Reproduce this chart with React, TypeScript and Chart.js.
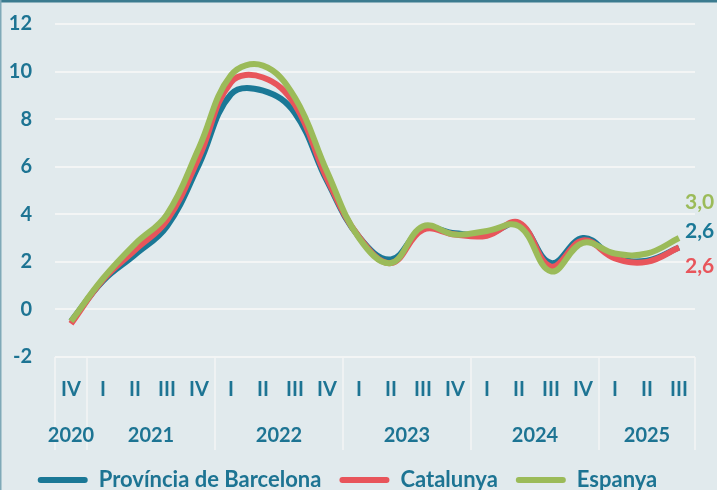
import { useEffect, useRef } from 'react';
import { Chart, registerables } from 'chart.js';

Chart.register(...registerables);

// ---- Data ----
const quarters = ['IV', 'I', 'II', 'III', 'IV', 'I', 'II', 'III', 'IV', 'I', 'II', 'III', 'IV', 'I', 'II', 'III', 'IV', 'I', 'II', 'III'];
const years = ['2020', '2021', '2022', '2023', '2024', '2025'];
const quartersPerYear = [1, 4, 4, 4, 4, 3];

const barcelona = [-0.5, 1.2, 2.3, 3.5, 6.1, 9.05, 9.2, 8.25, 5.4, 3.05, 2.1, 3.4, 3.2, 3.15, 3.6, 1.95, 3.0, 2.2, 2.05, 2.6];
const catalunya = [-0.6, 1.25, 2.5, 3.75, 6.4, 9.55, 9.75, 8.6, 5.5, 3.05, 1.95, 3.35, 3.15, 3.1, 3.65, 1.8, 2.9, 2.15, 2.0, 2.6];
const espanya = [-0.5, 1.3, 2.75, 4.0, 6.8, 9.85, 10.25, 8.9, 5.8, 3.0, 1.95, 3.5, 3.15, 3.3, 3.5, 1.6, 2.8, 2.35, 2.35, 3.0];

const seriesNames = ['Província de Barcelona', 'Catalunya', 'Espanya'];
const yMin = -2;
const yMax = 12;
const yStep = 2;

// ---- Styles ----
const TEXT = '#1d7493';
const BLUE = '#1a7896';
const RED = '#e8555b';
const GREEN = '#9bbb59';
const BG = '#e1eaed';
const GRID = '#f3f5f5';
const FONT = 'Lato, "Open Sans", sans-serif';

const endLabelOffsets = [-16, 19, -36];

const decorPlugin = {
  id: 'decor',
  beforeDraw(chart: any) {
    const { ctx, width, height } = chart;
    ctx.save();
    ctx.fillStyle = BG;
    ctx.fillRect(0, 0, width, height);
    ctx.fillStyle = '#3b7b8f';
    ctx.fillRect(0, 0, width, 2.5);
    ctx.fillStyle = '#7fa9b8';
    ctx.fillRect(0, 0, 1.5, height);
    ctx.restore();
  },
  afterDraw(chart: any) {
    const { ctx, chartArea } = chart;
    const xs = chart.scales.x;
    ctx.save();
    const bounds: number[] = [chartArea.left];
    let idx = 0;
    const centers: number[] = [];
    quartersPerYear.forEach((n) => {
      const first = xs.getPixelForValue(idx);
      const last = xs.getPixelForValue(idx + n - 1);
      centers.push((first + last) / 2);
      idx += n;
      if (idx < quarters.length) {
        bounds.push((xs.getPixelForValue(idx - 1) + xs.getPixelForValue(idx)) / 2);
      }
    });
    bounds.push(chartArea.right);
    ctx.strokeStyle = GRID;
    ctx.lineWidth = 1.5;
    bounds.forEach((bx) => {
      ctx.beginPath();
      ctx.moveTo(bx, chartArea.bottom);
      ctx.lineTo(bx, chartArea.bottom + 93);
      ctx.stroke();
    });
    ctx.fillStyle = TEXT;
    ctx.font = `bold 20px ${FONT}`;
    ctx.textAlign = 'center';
    ctx.textBaseline = 'middle';
    years.forEach((y, i) => {
      ctx.fillText(y, centers[i], chartArea.bottom + 79);
    });
    ctx.restore();
  },
  afterDatasetsDraw(chart: any) {
    const { ctx } = chart;
    ctx.save();
    ctx.font = `bold 21px ${FONT}`;
    ctx.textAlign = 'left';
    ctx.textBaseline = 'middle';
    chart.data.datasets.forEach((ds: any, i: number) => {
      const meta = chart.getDatasetMeta(i);
      const pt = meta.data[meta.data.length - 1];
      const v = ds.data[ds.data.length - 1];
      ctx.fillStyle = ds.borderColor;
      ctx.fillText(v.toFixed(1).replace('.', ','), pt.x + 6, pt.y + endLabelOffsets[i]);
    });
    ctx.restore();
  },
};

export default function App() {
  const ref = useRef<HTMLCanvasElement>(null);

  useEffect(() => {
    let chart: Chart | null = null;
    let cancelled = false;
    const build = () => {
      if (cancelled || !ref.current) return;
      const colors = [BLUE, RED, GREEN];
      const dataSeries = [barcelona, catalunya, espanya];
      chart = new Chart(ref.current, {
        type: 'line',
        data: {
          labels: quarters,
          datasets: dataSeries.map((d, i) => ({
            label: seriesNames[i],
            data: d,
            borderColor: colors[i],
            backgroundColor: colors[i],
            borderWidth: 6,
            pointRadius: 0,
            pointHoverRadius: 0,
            tension: 0.4,
            fill: false,
            order: 2 - i,
          })),
        },
        options: {
          responsive: true,
          maintainAspectRatio: false,
          animation: false,
          events: [],
          layout: { padding: { top: 24, left: 0, right: 22, bottom: -11 } },
          scales: {
            x: {
              offset: true,
              grid: { display: false },
              border: { display: false },
              ticks: {
                color: TEXT,
                font: { family: FONT, size: 20, weight: 'bold' },
                padding: 13,
                maxRotation: 0,
                autoSkip: false,
              },
              afterFit: (s: any) => {
                s.height = 94;
              },
            },
            y: {
              min: yMin,
              max: yMax,
              ticks: {
                stepSize: yStep,
                color: TEXT,
                font: { family: FONT, size: 20, weight: 'bold' },
                padding: 0,
              },
              grid: {
                color: GRID,
                lineWidth: 2,
                drawTicks: true,
                tickLength: 23,
                tickColor: 'rgba(0,0,0,0)',
              },
              border: { display: false },
              afterFit: (s: any) => {
                s.width = 55;
              },
            },
          },
          plugins: {
            legend: {
              position: 'bottom',
              labels: {
                boxWidth: 50,
                boxHeight: 6,
                padding: 18,
                color: TEXT,
                font: { family: FONT, size: 22, weight: 'bold' },
                useBorderRadius: true,
                borderRadius: 3,
                sort: (a: any, b: any) => a.datasetIndex - b.datasetIndex,
                generateLabels: (c: any) =>
                  (Chart.defaults.plugins.legend.labels.generateLabels as any)(c).map((l: any) => ({
                    ...l,
                    fillStyle: l.strokeStyle,
                    lineWidth: 0,
                  })),
              },
            },
            tooltip: { enabled: false },
          },
        } as any,
        plugins: [decorPlugin],
      });
    };
    const fontsReady = (document as any).fonts
      ? Promise.all([
          (document as any).fonts.load(`bold 19px Lato`),
          (document as any).fonts.load(`bold 22px Lato`),
        ]).catch(() => null)
      : Promise.resolve(null);
    fontsReady.then(build);
    return () => {
      cancelled = true;
      if (chart) chart.destroy();
    };
  }, []);

  return (
    <div style={{ position: 'fixed', left: 0, top: 0, width: 717, height: 490 }}>
      <canvas ref={ref} />
    </div>
  );
}
